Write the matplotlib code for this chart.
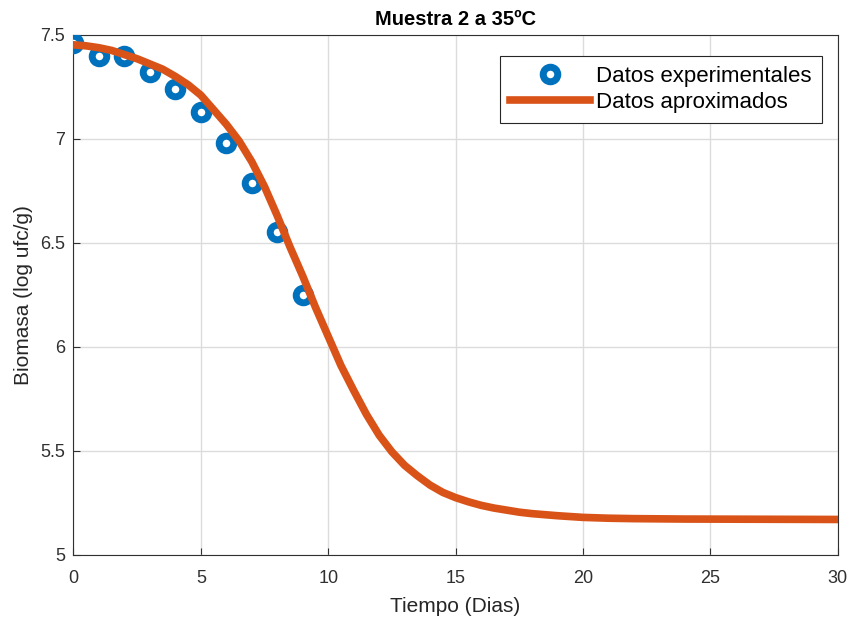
import matplotlib
matplotlib.use("Agg")
from matplotlib import pyplot as plt

plt.rcParams['font.family'] = ['Liberation Sans', 'DejaVu Sans']

# datos experimentales (muestra 2, 35 ºC)
dias_exp = [0, 1, 2, 3, 4, 5, 6, 7, 8, 9]
biomasa_exp = [7.46, 7.40, 7.40, 7.32, 7.24, 7.13, 6.98, 6.79, 6.55, 6.25]

# curva del modelo ajustado
dias_mod = [0, 0.5, 1, 1.5, 2, 2.5, 3, 3.5, 4, 4.5, 5, 5.5, 6, 6.5, 7, 7.5,
            8, 8.5, 9, 9.5, 10, 10.5, 11, 11.5, 12, 12.5, 13, 13.5, 14, 14.5,
            15, 15.5, 16, 16.5, 17, 17.5, 18, 19, 20, 21, 22, 24, 27, 30]
biomasa_mod = [7.452, 7.447, 7.438, 7.425, 7.405, 7.385, 7.36, 7.335, 7.30,
               7.26, 7.21, 7.14, 7.07, 6.99, 6.89, 6.77, 6.63, 6.48, 6.34,
               6.19, 6.05, 5.91, 5.79, 5.675, 5.575, 5.495, 5.43, 5.38, 5.335,
               5.30, 5.275, 5.255, 5.238, 5.225, 5.215, 5.205, 5.198, 5.188,
               5.18, 5.176, 5.174, 5.172, 5.171, 5.17]

fig = plt.figure(figsize=(8.54, 6.22), dpi=100)
ax = fig.add_axes([0.086, 0.108, 0.895, 0.836])

ax.plot(dias_exp, biomasa_exp, 'o', color='#0072BD', mfc='white',
        ms=10.5, mew=5, label='Datos experimentales', zorder=3)
ax.plot(dias_mod, biomasa_mod, '-', color='#D95319', lw=5.5,
        solid_joinstyle='round', label='Datos aproximados', zorder=4)

ax.set_xlim(0, 30)
ax.set_ylim(5, 7.5)
ax.set_xticks([0, 5, 10, 15, 20, 25, 30])
ax.set_yticks([5, 5.5, 6, 6.5, 7, 7.5])
ax.set_yticklabels(['5', '5.5', '6', '6.5', '7', '7.5'])
ax.grid(True, color='#DCDCDC', lw=1)
ax.set_axisbelow(True)
ax.tick_params(direction='in', labelsize=13, colors='#303030', length=5,
               top=False, right=False)
ax.tick_params(axis='x', pad=11)
ax.tick_params(axis='y', pad=6)
for s in ax.spines.values():
    s.set_color('#303030')
    s.set_linewidth(0.8)

ax.set_xlabel('Tiempo (Dias)', fontsize=15, color='#262626', labelpad=7)
ax.set_ylabel('Biomasa (log ufc/g)', fontsize=15, color='#262626', labelpad=5)
ax.set_title('Muestra 2 a 35ºC', fontsize=14.5, fontweight='bold', pad=7)

leg = ax.legend(loc='upper right', bbox_to_anchor=(0.979, 0.96),
                fontsize=16, fancybox=False, edgecolor='#262626',
                handlelength=3.6, borderpad=0.45, labelspacing=0.25,
                handletextpad=0.3, borderaxespad=0, framealpha=1)
leg.get_frame().set_linewidth(0.8)

plt.savefig("out.png", dpi=100)
